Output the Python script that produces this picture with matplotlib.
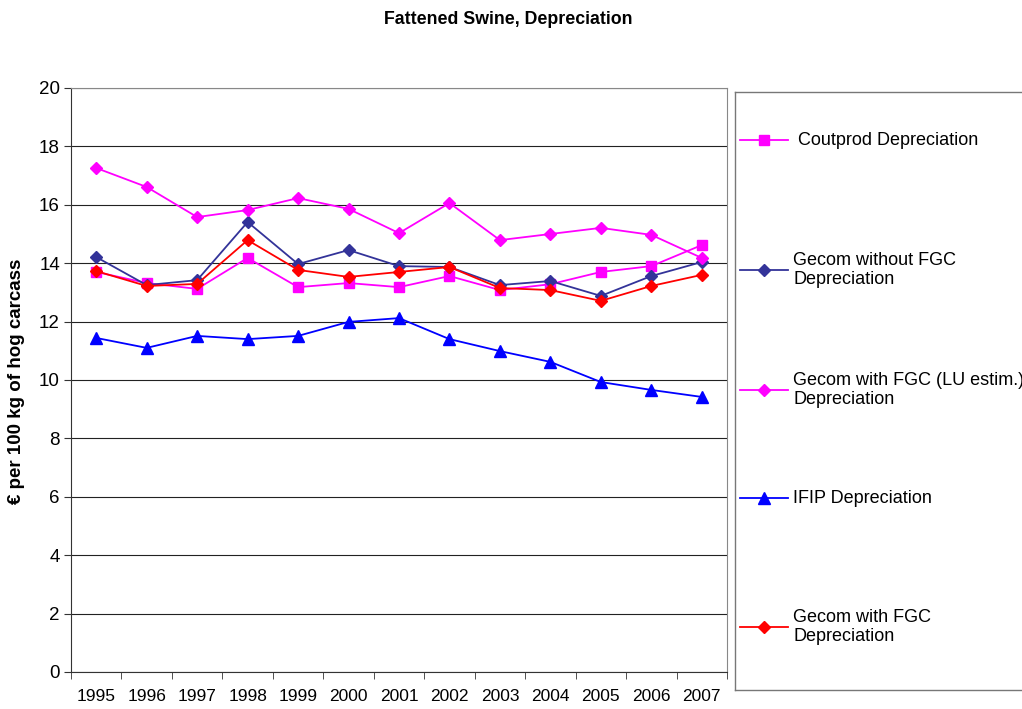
import matplotlib
matplotlib.use("Agg")
from matplotlib import pyplot as plt
from matplotlib.transforms import Bbox
import numpy as np

plt.rcParams["font.family"] = ["Liberation Sans", "DejaVu Sans"]

# values (EUR per 100 kg of hog carcass)
years = ["1995", "1996", "1997", "1998", "1999", "2000", "2001",
         "2002", "2003", "2004", "2005", "2006", "2007"]
coutprod = [13.70, 13.32, 13.12, 14.18, 13.18, 13.32, 13.18,
            13.56, 13.08, 13.28, 13.70, 13.90, 14.62]
gecom_without = [14.21, 13.25, 13.42, 15.41, 13.97, 14.45, 13.90,
                 13.87, 13.25, 13.39, 12.88, 13.56, 14.04]
gecom_lu = [17.26, 16.61, 15.58, 15.82, 16.23, 15.86, 15.03,
            16.06, 14.79, 15.00, 15.21, 14.97, 14.18]
ifip = [11.44, 11.10, 11.51, 11.40, 11.51, 11.99, 12.12,
        11.40, 10.99, 10.62, 9.93, 9.66, 9.42]
gecom_fgc = [13.73, 13.22, 13.29, 14.79, 13.77, 13.53, 13.70,
             13.87, 13.15, 13.08, 12.71, 13.22, 13.60]

series = [
    (" Coutprod Depreciation", coutprod, "#FF00FF", "s", 7.5),
    ("Gecom without FGC\nDepreciation", gecom_without, "#333399", "D", 6.5),
    ("Gecom with FGC (LU estim.)\nDepreciation", gecom_lu, "#FF00FF", "D", 6.5),
    ("IFIP Depreciation", ifip, "#0000FF", "^", 8),
    ("Gecom with FGC\nDepreciation", gecom_fgc, "#FF0000", "D", 6.5),
]

W, H = 1022, 709
fig = plt.figure(figsize=(W / 100, H / 100), dpi=100)
ax = fig.add_axes([71 / W, (H - 672) / H, 656 / W, 584 / H])

x = np.arange(len(years))
for label, vals, color, marker, ms in series:
    ax.plot(x, vals, color=color, lw=1.3, marker=marker, ms=ms,
            markeredgecolor=color, label=label.strip())

ax.set_xlim(-0.5, len(years) - 0.5)
ax.set_ylim(0, 20)
ax.set_yticks(np.arange(0, 21, 2))
ax.set_xticks(x)
ax.set_xticklabels(years)
ax.set_xticks(np.arange(-0.5, len(years), 1), minor=True)
ax.tick_params(axis="x", which="major", length=0, pad=12, labelsize=12.5)
ax.tick_params(axis="x", which="minor", length=5, direction="out", color="#333333")
ax.tick_params(axis="y", length=5, direction="out", labelsize=13.5,
               color="#333333", pad=3)
ax.grid(axis="y", color="#222222", lw=0.8)
ax.set_axisbelow(True)
for side in ("top", "right"):
    ax.spines[side].set_color("#888888")
for side in ("left", "bottom"):
    ax.spines[side].set_color("#333333")

fig.text(508 / W, 1 - 20 / H, "Fattened Swine, Depreciation", ha="center",
         va="center", fontsize=12.8, fontweight="bold")

# axis title, cut off at the top like the original frame
ylab = fig.text(17 / W, (H - 504) / H, "€ per 100 kg of hog carcass",
                rotation=90, ha="center", va="bottom", fontsize=13.5,
                fontweight="bold")
ylab.set_clip_box(Bbox([[0, 0], [W, H - 259]]))
ylab.set_clip_on(True)

# legend panel on the right
lg = fig.add_axes([735 / W, (H - 690) / H, 300 / W, 598 / H])
lg.set_xlim(735, 1035)
lg.set_ylim(690, 92)
lg.set_xticks([])
lg.set_yticks([])
for sp in lg.spines.values():
    sp.set_color("#777777")
    sp.set_linewidth(1.0)

entry_y = [140, 270, 390, 498, 627]
for (label, vals, color, marker, ms), yy in zip(series, entry_y):
    lg.plot([740, 764, 788], [yy, yy, yy], color=color, lw=1.3, marker=marker,
            ms=ms, markevery=[1], markeredgecolor=color)
    lg.text(793, yy, label, ha="left", va="center", fontsize=13,
            linespacing=1.2)

fig.savefig("out.png", dpi=100)
